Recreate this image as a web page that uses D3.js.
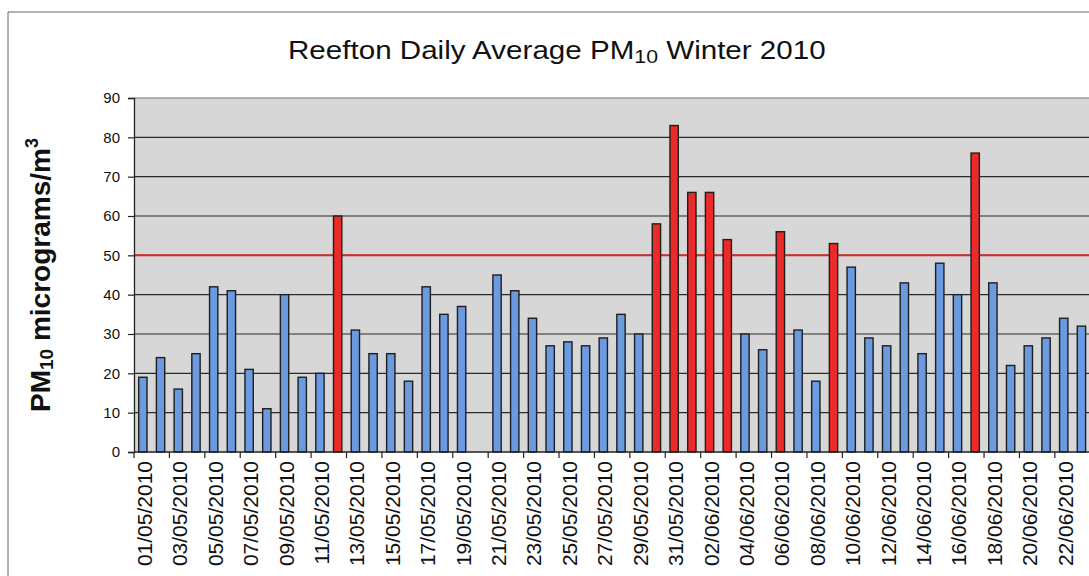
<!DOCTYPE html>
<html>
<head>
<meta charset="utf-8">
<script src="https://cdn.jsdelivr.net/npm/d3@7"></script>
<style>
  html, body { margin: 0; padding: 0; background: #fff; }
  svg { display: block; font-family: "Liberation Sans", Arial, sans-serif; }
</style>
</head>
<body>
<svg id="chart" width="1089" height="576"></svg>
<script>
// ---- data ----
const dates = [
  "01/05/2010","02/05/2010","03/05/2010","04/05/2010","05/05/2010","06/05/2010","07/05/2010",
  "08/05/2010","09/05/2010","10/05/2010","11/05/2010","12/05/2010","13/05/2010","14/05/2010",
  "15/05/2010","16/05/2010","17/05/2010","18/05/2010","19/05/2010","20/05/2010","21/05/2010",
  "22/05/2010","23/05/2010","24/05/2010","25/05/2010","26/05/2010","27/05/2010","28/05/2010",
  "29/05/2010","30/05/2010","31/05/2010","01/06/2010","02/06/2010","03/06/2010","04/06/2010",
  "05/06/2010","06/06/2010","07/06/2010","08/06/2010","09/06/2010","10/06/2010","11/06/2010",
  "12/06/2010","13/06/2010","14/06/2010","15/06/2010","16/06/2010","17/06/2010","18/06/2010",
  "19/06/2010","20/06/2010","21/06/2010","22/06/2010","23/06/2010"
];
const pm10 = [
  19,24,16,25,42,41,21,
  11,40,19,20,60,31,25,
  25,18,42,35,37,null,45,
  41,34,27,28,27,29,35,
  30,58,83,66,66,54,30,
  26,56,31,18,53,47,29,
  27,43,25,48,40,76,43,
  22,27,29,34,32
];
const guideline = 50;
const yTicks = [0,10,20,30,40,50,60,70,80,90];
const labelDates = dates.filter((d, i) => i % 2 === 0);

// ---- layout ----
const svg = d3.select("#chart");
const pL = 134, pR = 1090.3, pT = 98, pB = 452;

const x = d3.scaleBand().domain(dates).range([pL, pR])
  .paddingInner(0.53).paddingOuter(0.265);
const y = d3.scaleLinear().domain([0, 90]).range([pB, pT]);
const step = x.step();
const gap = step - x.bandwidth();

// outer frame
svg.append("line").attr("x1", 8).attr("x2", 1089).attr("y1", 12).attr("y2", 12)
  .attr("stroke", "#666").attr("stroke-width", 1);
svg.append("line").attr("x1", 8).attr("x2", 8).attr("y1", 12).attr("y2", 576)
  .attr("stroke", "#666").attr("stroke-width", 1);

// plot background
svg.append("rect").attr("x", pL).attr("y", pT)
  .attr("width", 1089 - pL).attr("height", pB - pT)
  .attr("fill", "#d7d7d7");

// gridlines
svg.append("g").selectAll("line").data(yTicks.filter(t => t > 0)).join("line")
  .attr("x1", pL).attr("x2", 1089)
  .attr("y1", d => y(d)).attr("y2", d => y(d))
  .attr("stroke", d => d === 90 ? "#777" : "#2a2a2a")
  .attr("stroke-width", 1.2);

// guideline at 50
svg.append("line").attr("x1", pL).attr("x2", 1089)
  .attr("y1", y(guideline)).attr("y2", y(guideline))
  .attr("stroke", "#d42a2a").attr("stroke-width", 2);

// bars
const barData = dates.map((d, i) => ({ d, v: pm10[i] })).filter(o => o.v !== null);
svg.append("g").selectAll("rect").data(barData).join("rect")
  .attr("x", o => x(o.d))
  .attr("y", o => y(o.v))
  .attr("width", x.bandwidth())
  .attr("height", o => y(0) - y(o.v))
  .attr("fill", o => o.v > guideline ? "#ec2a2a" : "#6c9ae0")
  .attr("stroke", "#1e1e1e")
  .attr("stroke-width", 1.4);

// y axis
const yAxis = svg.append("g").attr("transform", `translate(${pL},0)`)
  .call(d3.axisLeft(y).tickValues(yTicks).tickSize(6).tickPadding(8));
yAxis.select(".domain").attr("stroke", "#222").attr("stroke-width", 1.3);
yAxis.selectAll(".tick line").attr("stroke", "#222").attr("stroke-width", 1.2);
yAxis.selectAll(".tick text").attr("font-size", 15).attr("fill", "#111")
  .attr("font-family", "Liberation Sans, Arial, sans-serif");

// x axis line
svg.append("line").attr("x1", pL).attr("x2", 1089)
  .attr("y1", pB).attr("y2", pB)
  .attr("stroke", "#222").attr("stroke-width", 1.3);

// x tick marks at every second category boundary
const boundaryDates = dates.filter((d, i) => i % 2 === 0);
svg.append("g").selectAll("line").data(boundaryDates).join("line")
  .attr("x1", d => x(d) - gap / 2).attr("x2", d => x(d) - gap / 2)
  .attr("y1", pB).attr("y2", pB + 6)
  .attr("stroke", "#222").attr("stroke-width", 1.2);

// x labels (rotated)
svg.append("g").selectAll("text").data(labelDates).join("text")
  .attr("transform", d => `translate(${x(d) + x.bandwidth() / 2 + 9},${pB + 9}) rotate(-90)`)
  .attr("text-anchor", "end")
  .attr("font-size", 21)
  .attr("fill", "#111")
  .text(d => d);

// title (stretched horizontally to the reference's width)
const titleG = svg.append("g");
const title = titleG.append("text")
  .attr("x", 0).attr("y", 0)
  .attr("font-size", 25).attr("fill", "#111");
title.append("tspan").text("Reefton Daily Average PM");
title.append("tspan").attr("font-size", 18).attr("dy", 4).text("10");
title.append("tspan").attr("dy", -4).text(" Winter 2010");
const tw = title.node().getBBox().width;
titleG.attr("transform", `translate(288,59) scale(${538 / tw},1)`);

// y axis title
const yt = svg.append("text")
  .attr("transform", `translate(50,412) rotate(-90)`)
  .attr("text-anchor", "start")
  .attr("font-size", 28).attr("font-weight", "bold").attr("fill", "#111");
yt.append("tspan").text("PM");
yt.append("tspan").attr("font-size", 19).attr("dy", 3).text("10");
yt.append("tspan").attr("dy", -3).text(" micrograms/m");
yt.append("tspan").attr("font-size", 18).attr("dy", -12).text("3");
</script>
</body>
</html>
